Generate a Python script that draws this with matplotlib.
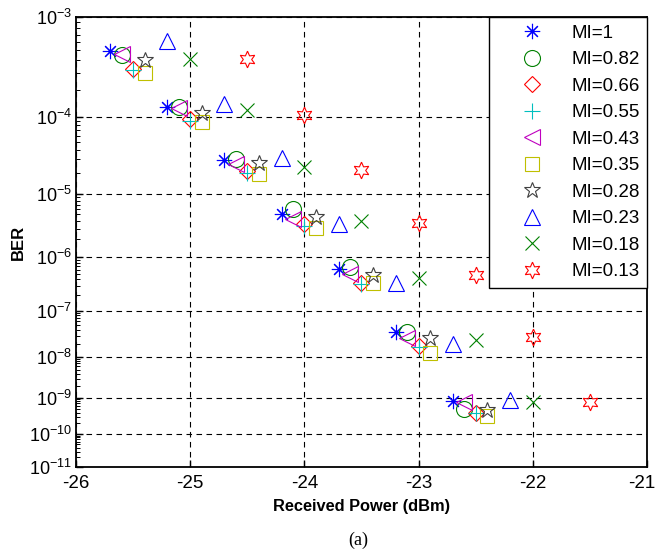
import numpy as np
import matplotlib.pyplot as plt
import matplotlib.transforms as mtransforms
from matplotlib.ticker import FixedLocator, FuncFormatter, NullFormatter

plt.rcParams['font.family'] = ['Liberation Sans', 'DejaVu Sans']
plt.rcParams['mathtext.default'] = 'regular'
plt.rcParams['axes.unicode_minus'] = False

# received power (dBm) and BER for each modulation index
p_mi_100 = [-25.7, -25.2, -24.7, -24.2, -23.7, -23.2, -22.7]
ber_mi_100 = [4.9e-4, 1.29e-4, 2.9e-5, 5.0e-6, 6.3e-7, 3.6e-8, 8.3e-10]

p_mi_082 = [-25.6, -25.1, -24.6, -24.1, -23.6, -23.1, -22.6]
ber_mi_082 = [4.5e-4, 1.29e-4, 3.0e-5, 6.0e-6, 6.6e-7, 3.5e-8, 5.1e-10]

p_mi_066 = [-25.5, -25.0, -24.5, -24.0, -23.5, -23.0, -22.5]
ber_mi_066 = [3.3e-4, 9.5e-5, 2.1e-5, 3.5e-6, 3.5e-7, 1.8e-8, 4.0e-10]

p_mi_055 = [-25.5, -25.0, -24.5, -24.0, -23.5, -23.0, -22.5]
ber_mi_055 = [3.2e-4, 9.0e-5, 2.0e-5, 3.3e-6, 3.3e-7, 1.7e-8, 3.8e-10]

p_mi_043 = [-25.6, -25.1, -24.6, -24.1, -23.6, -23.1, -22.6]
ber_mi_043 = [4.6e-4, 1.26e-4, 2.6e-5, 4.2e-6, 5.1e-7, 2.6e-8, 7.8e-10]

p_mi_035 = [-25.4, -24.9, -24.4, -23.9, -23.4, -22.9, -22.4]
ber_mi_035 = [3.0e-4, 8.7e-5, 1.9e-5, 3.1e-6, 3.4e-7, 1.2e-8, 3.3e-10]

p_mi_028 = [-25.4, -24.9, -24.4, -23.9, -23.4, -22.9, -22.4]
ber_mi_028 = [4.0e-4, 1.1e-4, 2.7e-5, 4.5e-6, 4.8e-7, 2.7e-8, 4.8e-10]

p_mi_023 = [-25.2, -24.7, -24.2, -23.7, -23.2, -22.7, -22.2]
ber_mi_023 = [6.1e-4, 1.4e-4, 3.1e-5, 3.6e-6, 3.4e-7, 2.0e-8, 8.9e-10]

p_mi_018 = [-25.0, -24.5, -24.0, -23.5, -23.0, -22.5, -22.0]
ber_mi_018 = [4.1e-4, 1.2e-4, 2.4e-5, 3.9e-6, 4.2e-7, 2.4e-8, 7.8e-10]

p_mi_013 = [-24.5, -24.0, -23.5, -23.0, -22.5, -22.0, -21.5]
ber_mi_013 = [4.1e-4, 1.04e-4, 2.2e-5, 3.7e-6, 4.9e-7, 2.8e-8, 7.8e-10]

labels = ['MI=1', 'MI=0.82', 'MI=0.66', 'MI=0.55', 'MI=0.43',
          'MI=0.35', 'MI=0.28', 'MI=0.23', 'MI=0.18', 'MI=0.13']
x_ticks = [-26, -25, -24, -23, -22, -21]
y_decades = [-3, -4, -5, -6, -7, -8, -9, -10, -11]


def fwd(y):
    # -log10(-log10(BER)) axis, the usual BER waterfall scale
    with np.errstate(divide='ignore', invalid='ignore'):
        y = np.clip(y, 1e-300, 1 - 1e-9)
        return -np.log10(-np.log10(y))


def inv(f):
    return 10 ** (-(10 ** (-np.asarray(f))))


series = [
    (p_mi_100, ber_mi_100, (8, 2, 0), 11, (0, 0, 1)),
    (p_mi_082, ber_mi_082, 'o', 11.5, (0, 0.5, 0)),
    (p_mi_066, ber_mi_066, 'D', 8, (1, 0, 0)),
    (p_mi_055, ber_mi_055, '+', 11.5, (0, 0.75, 0.75)),
    (p_mi_043, ber_mi_043, '<', 12, (0.75, 0, 0.75)),
    (p_mi_035, ber_mi_035, 's', 9.5, (0.75, 0.75, 0)),
    (p_mi_028, ber_mi_028, '*', 12, (0.25, 0.25, 0.25)),
    (p_mi_023, ber_mi_023, '^', 12, (0, 0, 1)),
    (p_mi_018, ber_mi_018, 'x', 9.5, (0, 0.5, 0)),
    (p_mi_013, ber_mi_013, (6, 1, 0), 12, (1, 0, 0)),
]

fig = plt.figure(figsize=(6.59, 5.56), dpi=100)
ax = fig.add_axes([0.1153, 0.160, 0.8665, 0.809])

for (px, py, mk, ms, col), lab in zip(series, labels):
    ax.plot(px, py, linestyle='none', marker=mk, markersize=ms,
            markerfacecolor='none', markeredgecolor=col, markeredgewidth=0.8,
            color=col, label=lab)

ax.set_yscale('function', functions=(fwd, inv))
ax.set_ylim(1e-11, 1e-3)
ax.set_xlim(-26, -21)

ax.xaxis.set_major_locator(FixedLocator(x_ticks))
ax.yaxis.set_major_locator(FixedLocator([10.0 ** d for d in y_decades]))
ax.yaxis.set_major_formatter(FuncFormatter(lambda v, pos: '$10^{%d}$' % round(np.log10(v))))
minors = [k * 10.0 ** d for d in range(-11, -3) for k in range(2, 10)]
ax.yaxis.set_minor_locator(FixedLocator(minors))
ax.yaxis.set_minor_formatter(NullFormatter())

ax.tick_params(which='both', direction='in', top=False, right=False)
ax.tick_params(axis='x', labelsize=13.5, pad=6)
ax.tick_params(axis='y', labelsize=13, pad=3)
ax.tick_params(which='major', length=5, width=1)
ax.tick_params(which='minor', length=3, width=0.7)
for s in ax.spines.values():
    s.set_linewidth(1.3)

ax.grid(True, which='major', color='k', linestyle=(0, (5, 4)), linewidth=0.8)

# pull the last x label in a touch so it stays on the canvas
last = ax.get_xticklabels()[-1]
last.set_transform(last.get_transform() +
                   mtransforms.ScaledTranslation(-4 / 72, 0, fig.dpi_scale_trans))

ax.set_xlabel('Received Power (dBm)', fontsize=11.8, fontweight='bold', labelpad=5)
ax.set_ylabel('BER', fontsize=12, fontweight='bold', labelpad=2)

leg = ax.legend(loc='upper right', numpoints=1, fontsize=13.5, frameon=True,
                fancybox=False, borderaxespad=0, handlelength=3.8,
                handletextpad=0.19, labelspacing=0.5, borderpad=0.4)
leg.get_frame().set_edgecolor('k')
leg.get_frame().set_linewidth(1.0)
leg.get_frame().set_alpha(1)

fig.text(0.543, 0.029, '(a)', fontsize=13, family='Liberation Serif',
         ha='center', va='center')

fig.savefig('out.png', dpi=100)
